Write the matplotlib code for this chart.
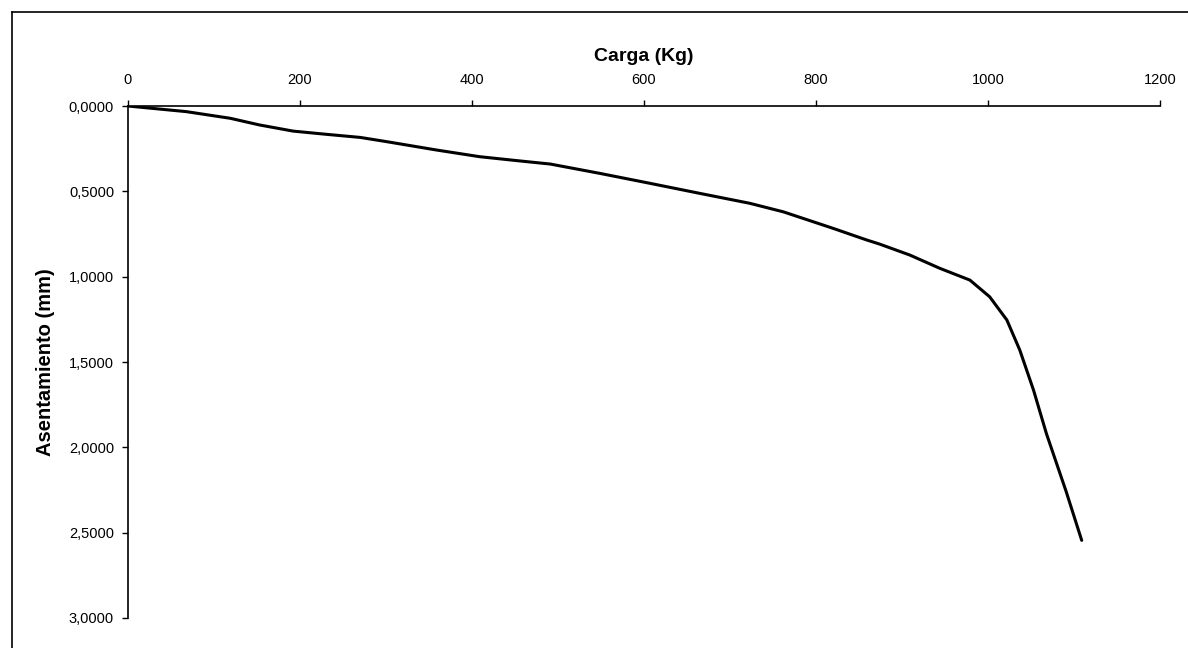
import matplotlib
matplotlib.use("Agg")
import matplotlib.pyplot as plt
from matplotlib.lines import Line2D
from matplotlib.ticker import FuncFormatter

plt.rcParams['font.family'] = ['Liberation Sans', 'DejaVu Sans']

# load (kg) vs settlement (mm)
carga = [0, 68, 119, 153, 192, 231, 270, 301, 359, 409, 456, 491, 549, 607, 665,
         723, 762, 820, 859, 874, 909, 944, 979, 1002, 1022, 1037, 1053, 1068,
         1091, 1109]
asentamiento = [0.0, 0.033, 0.072, 0.111, 0.147, 0.166, 0.184, 0.209, 0.258, 0.297,
                0.322, 0.34, 0.395, 0.453, 0.512, 0.57, 0.62, 0.717, 0.785, 0.809,
                0.873, 0.951, 1.02, 1.118, 1.254, 1.43, 1.665, 1.92, 2.26, 2.545]

x_ticks = [0, 200, 400, 600, 800, 1000, 1200]
y_ticks = [0.0, 0.5, 1.0, 1.5, 2.0, 2.5, 3.0]

fig = plt.figure(figsize=(11.88, 6.48), dpi=100)
ax = fig.add_axes([0.1077, 0.0463, 0.8687, 0.7901])

ax.plot(carga, asentamiento, color="black", linewidth=2.2,
        solid_joinstyle="round", solid_capstyle="round")

ax.set_xlim(0, 1200)
ax.set_ylim(3.0, 0.0)
ax.xaxis.tick_top()
ax.xaxis.set_label_position("top")
ax.set_xticks(x_ticks)
ax.set_yticks(y_ticks)
ax.yaxis.set_major_formatter(FuncFormatter(lambda v, p: f"{v:.4f}".replace(".", ",")))

ax.spines["right"].set_visible(False)
ax.spines["bottom"].set_visible(False)
ax.spines["top"].set_linewidth(1.2)
ax.spines["left"].set_linewidth(1.2)
ax.tick_params(axis="both", direction="out", length=4, width=1, labelsize=10.5, pad=6)
ax.tick_params(axis="x", pad=10)

ax.set_xlabel("Carga (Kg)", fontsize=14, fontweight="bold", labelpad=8)
ax.set_ylabel("Asentamiento (mm)", fontsize=14.5, fontweight="bold", labelpad=10)

# outer frame of the original sheet
fig.add_artist(Line2D([0.0098, 0.0098], [0.0, 0.9815], transform=fig.transFigure, color="black", linewidth=1.2))
fig.add_artist(Line2D([0.0098, 1.0], [0.9815, 0.9815], transform=fig.transFigure, color="black", linewidth=1.2))

fig.savefig("out.png", dpi=100, facecolor="white")
